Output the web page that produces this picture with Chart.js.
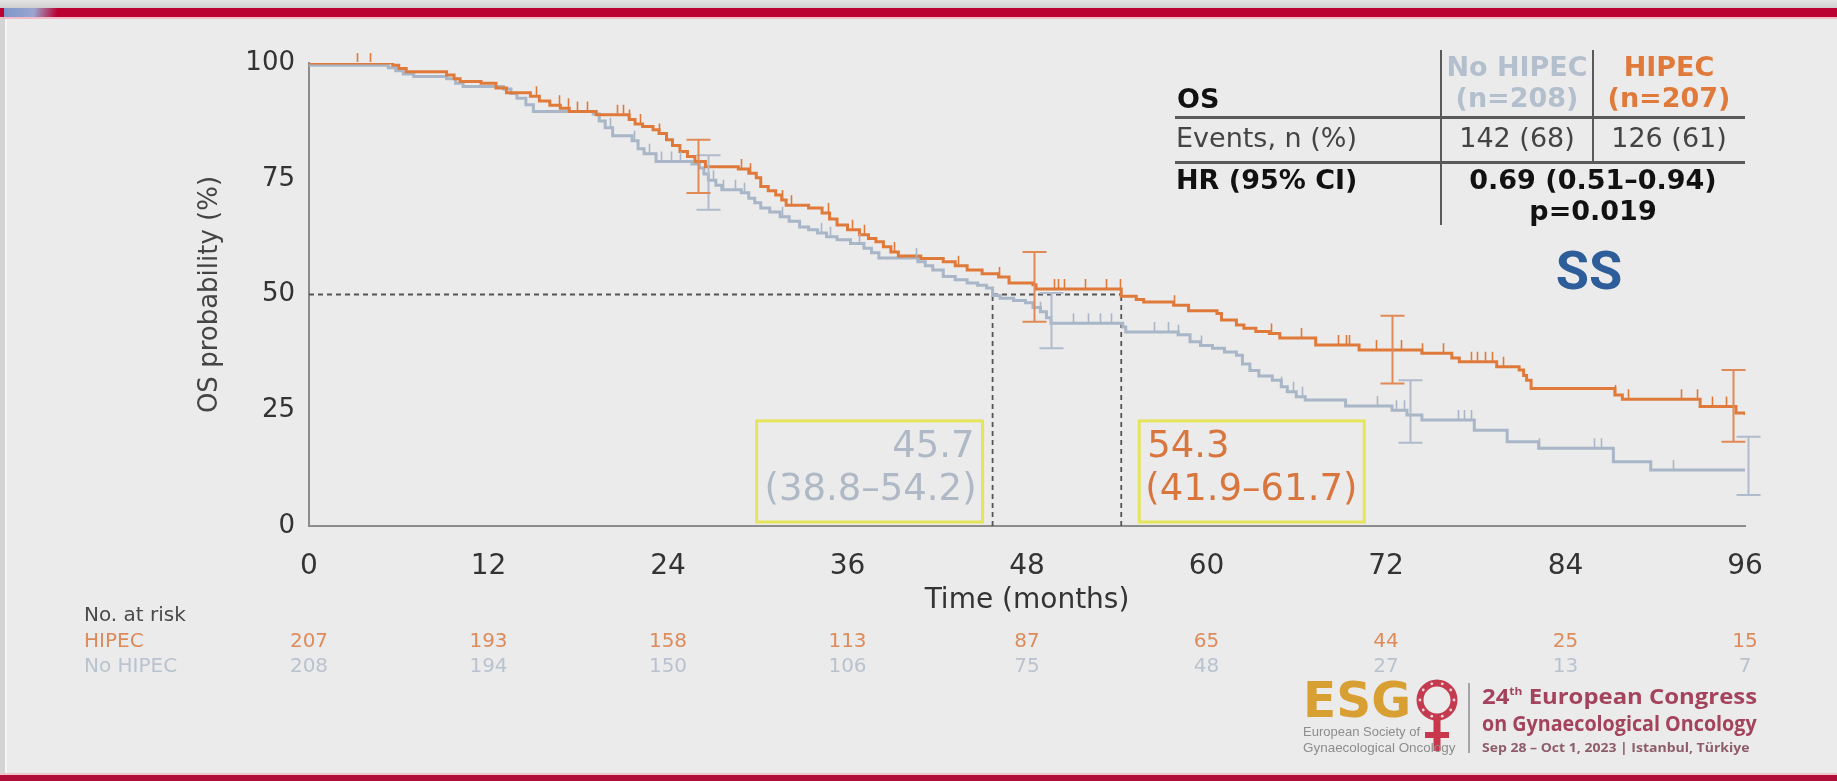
<!DOCTYPE html>
<html>
<head>
<meta charset="utf-8">
<script src="https://cdn.jsdelivr.net/npm/chart.js@4.4.0/dist/chart.umd.min.js"></script>
<style>
html,body{margin:0;padding:0;width:1837px;height:781px;overflow:hidden;background:#ebebeb;font-family:"DejaVu Sans",sans-serif;}
#wrap{position:relative;width:1837px;height:781px;}
#km{position:absolute;left:0;top:0;}
.ov{position:absolute;white-space:nowrap;line-height:1.2;}
.bar{position:absolute;}
</style>
</head>
<body>
<div id="wrap">
  <div class="bar" style="left:0;top:0;width:1837px;height:8px;background:linear-gradient(#e4e4e4,#cfcfcf);"></div>
  <div class="bar" style="left:0;top:8px;width:1837px;height:9px;background:#ba0131;"></div>
  <div class="bar" style="left:4px;top:8px;width:66px;height:9px;background:linear-gradient(100deg,#7f95c9 0%,#9aa6cf 45%,rgba(186,1,49,0) 80%);"></div>
  <div class="bar" style="left:0;top:17px;width:1837px;height:2px;background:#f1bcc7;"></div>
  <div class="bar" style="left:0;top:773px;width:1837px;height:2px;background:#f2c4cd;"></div>
  <div class="bar" style="left:0;top:775px;width:1837px;height:6px;background:#b10d39;"></div>
  <div class="bar" style="left:0;top:19px;width:5px;height:754px;background:#d4d4d4;"></div>
  <div class="bar" style="left:5px;top:19px;width:2px;height:754px;background:#f6f6f6;"></div>
  <canvas id="km" width="1837" height="781"></canvas>
</div>
<script>
// ---------------- data ----------------
const monthTicks = [0, 12, 24, 36, 48, 60, 72, 84, 96];
const probTicks = [0, 25, 50, 75, 100];

const hipecTimes = [0, 5.6, 6, 6.5, 9.2, 9.7, 10.1, 11.5, 12.5, 13.2, 14.8, 15.4, 16.1, 16.8, 17.4, 19.2, 21.4, 21.8, 22.3, 23.0,
  23.4, 23.9, 24.3, 24.8, 25.3, 25.8, 26.5, 28.7, 29.4, 29.9, 30.2, 30.7, 31.2, 31.6, 31.9, 33.4, 34.3, 34.8, 35.3, 36.0,
  36.8, 37.4, 37.9, 38.4, 38.9, 39.4, 40.9, 42.4, 43.2, 44.0, 45.0, 46.1, 46.8, 48.4, 48.6, 54.3, 55.3, 55.8, 57.8, 58.8,
  60.7, 61.0, 62.0, 62.5, 63.3, 64.2, 64.9, 67.3, 70.2, 74.4, 76.4, 76.9, 79.4, 80.9, 81.2, 81.4, 81.7, 87.3, 87.8, 93.0,
  95.4, 96.0];
const hipecSurvival = [100, 99.5, 98.8, 98.1, 97.4, 96.6, 96.0, 95.6, 94.6, 93.6, 92.8, 91.8, 90.9, 90.2, 89.5, 88.8, 87.8, 86.8, 86.3, 85.6,
  84.8, 83.4, 82.2, 80.9, 79.8, 78.7, 77.6, 77.1, 76.2, 75.2, 73.3, 72.4, 71.5, 70.4, 69.3, 68.7, 67.6, 66.3, 65.0, 64.0,
  62.9, 62.1, 61.4, 60.3, 59.2, 58.3, 57.8, 57.1, 56.2, 55.3, 54.5, 53.8, 52.5, 52.1, 51.2, 49.6, 48.9, 48.4, 47.7, 46.5,
  45.9, 44.5, 43.4, 42.7, 42.0, 41.6, 40.6, 39.1, 38.0, 37.3, 36.3, 35.5, 34.4, 33.7, 32.5, 31.5, 29.7, 28.3, 27.4, 25.8,
  24.4, 24.0];

const noHipecTimes = [0, 5.3, 5.8, 6.3, 7.0, 9.2, 9.8, 10.3, 13.0, 13.5, 13.9, 14.5, 15.0, 19.0, 19.4, 19.8, 20.3, 21.6, 22.0, 22.4,
  23.2, 25.6, 26.1, 26.4, 26.7, 27.2, 27.6, 28.9, 29.4, 29.8, 30.2, 30.8, 31.5, 32.1, 32.8, 33.4, 34.0, 34.6, 35.3, 36.2,
  37.1, 37.6, 38.1, 40.7, 41.2, 41.7, 42.4, 43.2, 44.0, 44.7, 45.3, 45.7, 46.2, 47.1, 47.9, 48.4, 48.9, 49.3, 49.6, 54.4,
  54.6, 58.1, 58.9, 59.6, 60.4, 61.2, 62.0, 62.4, 62.9, 63.5, 64.4, 65.0, 65.4, 66.0, 66.6, 69.3, 72.4, 73.4, 74.4, 77.9,
  80.1, 82.2, 87.2, 89.7, 96.0];
const noHipecSurvival = [99.5, 99.0, 98.3, 97.6, 97.1, 96.6, 95.6, 94.9, 94.4, 93.4, 92.4, 91.0, 89.5, 89.0, 87.5, 86.0, 84.3, 83.2, 81.5, 80.4,
  78.7, 78.2, 77.3, 76.0, 74.7, 73.6, 72.6, 72.0, 70.8, 69.8, 68.7, 67.8, 66.8, 65.8, 64.6, 64.0, 63.3, 62.5, 61.8, 61.0,
  60.0, 59.0, 57.9, 57.1, 56.2, 55.3, 53.9, 53.2, 52.5, 52.0, 51.4, 49.8, 49.2, 48.7, 48.2, 47.2, 46.3, 45.0, 43.8, 43.0,
  41.9, 41.3, 39.8, 39.0, 38.4, 37.6, 36.9, 35.0, 33.6, 32.4, 31.5, 30.1, 29.0, 27.9, 27.2, 25.9, 25.0, 24.0, 22.9, 20.7,
  18.2, 16.8, 13.9, 12.1, 12.1];

const hipecCensored = [3.2, 4.1, 15.2, 16.7, 17.3, 17.9, 18.6, 20.6, 21.0, 21.4, 22.1, 23.4, 28.9, 29.5, 31.6, 32.2, 34.7, 36.3, 37.1, 39.1,
  43.4, 46.1, 49.8, 50.1, 50.5, 51.9, 53.3, 54.2, 57.8, 64.3, 66.3, 68.8, 69.3, 69.5, 71.3, 73.0, 74.4, 75.8, 77.7, 78.1,
  78.6, 79.1, 79.8, 87.3, 88.2, 91.7, 92.8, 93.8, 94.7];
const noHipecCensored = [20.1, 21.7, 22.7, 23.5, 24.2, 24.8, 27.0, 27.7, 28.5, 29.1, 31.6, 34.2, 34.8, 36.8, 40.6, 48.9, 51.1, 52.1, 52.9, 53.6,
  56.5, 57.4, 58.1, 59.6, 65.0, 65.8, 66.4, 71.4, 72.7, 73.2, 76.8, 77.2, 77.7, 82.2, 85.9, 86.4, 91.2];

const hipecCiTimes = [26.0, 48.5, 72.4, 95.2];
const hipecCiLow = [71.9, 44.1, 30.8, 18.2];
const hipecCiHigh = [83.4, 59.2, 45.4, 33.7];
const noHipecCiTimes = [26.7, 49.6, 73.6, 96.2];
const noHipecCiLow = [68.3, 38.4, 18.0, 6.7];
const noHipecCiHigh = [80.1, 50.3, 31.5, 19.3];

const medianMonths = [45.7, 54.3];           // No HIPEC, HIPEC
const medianCiText = ['(38.8–54.2)', '(41.9–61.7)'];
const atRiskHipec = [207, 193, 158, 113, 87, 65, 44, 25, 15];
const atRiskNoHipec = [208, 194, 150, 106, 75, 48, 27, 13, 7];

// ---------------- styles ----------------
const ORANGE = '#e07a3b';
const GREY = '#a8b6c7';
const ORANGE_CI = '#e28a56';
const GREY_CI = '#b0bccb';
const FONT = '"DejaVu Sans", sans-serif';

const toPts = (T, S) => T.map((t, i) => ({x: t, y: S[i]}));
const survAt = (T, S, t) => { let v = S[0]; for (let i = 0; i < T.length; i++) { if (T[i] <= t) v = S[i]; else break; } return v; };

const kmPlugin = {
  id: 'kmExtras',
  afterDatasetsDraw(chart) {
    const {ctx, scales: {x, y}} = chart;
    ctx.save();
    const censors = (T, S, C, color) => {
      ctx.strokeStyle = color; ctx.lineWidth = 1.6; ctx.beginPath();
      C.forEach(t => {
        const px = Math.round(x.getPixelForValue(t)) + 0.5;
        const py = y.getPixelForValue(survAt(T, S, t));
        ctx.moveTo(px, py - 1); ctx.lineTo(px, py - 10);
      });
      ctx.stroke();
    };
    const ci = (Tc, lo, hi, color) => {
      ctx.strokeStyle = color; ctx.lineWidth = 2; ctx.beginPath();
      Tc.forEach((t, i) => {
        const px = Math.round(x.getPixelForValue(t)) + 0.5;
        const y1 = y.getPixelForValue(lo[i]), y2 = y.getPixelForValue(hi[i]);
        ctx.moveTo(px, y1); ctx.lineTo(px, y2);
        ctx.moveTo(px - 12, y1); ctx.lineTo(px + 12, y1);
        ctx.moveTo(px - 12, y2); ctx.lineTo(px + 12, y2);
      });
      ctx.stroke();
    };
    censors(noHipecTimes, noHipecSurvival, noHipecCensored, GREY);
    censors(hipecTimes, hipecSurvival, hipecCensored, ORANGE);
    ci(noHipecCiTimes, noHipecCiLow, noHipecCiHigh, GREY_CI);
    ci(hipecCiTimes, hipecCiLow, hipecCiHigh, ORANGE_CI);
    ctx.restore();
  },
  afterDraw(chart) {
    const {ctx, scales: {x, y}} = chart;
    ctx.save();
    // median boxes
    const top = y.getPixelForValue(22.7), bottom = y.bottom - 4;
    const r1 = x.getPixelForValue(medianMonths[0]) - 10, l1 = r1 - 226;
    const l2 = x.getPixelForValue(medianMonths[1]) + 18, r2 = l2 + 225;
    ctx.strokeStyle = '#e4e55a'; ctx.lineWidth = 3;
    ctx.strokeRect(l1, top, r1 - l1, bottom - top);
    ctx.strokeRect(l2, top, r2 - l2, bottom - top);
    ctx.font = '37px ' + FONT; ctx.textBaseline = 'middle';
    ctx.fillStyle = '#afb9c6'; ctx.textAlign = 'right';
    ctx.fillText(String(medianMonths[0]), r1 - 8, top + 26);
    ctx.fillText(medianCiText[0], r1 - 6, top + 69);
    ctx.fillStyle = '#d8763e'; ctx.textAlign = 'left';
    ctx.fillText(String(medianMonths[1]), l2 + 8, top + 26);
    ctx.fillText(medianCiText[1], l2 + 6, top + 69);
    // number at risk
    ctx.font = '20px ' + FONT; ctx.textAlign = 'left';
    ctx.fillStyle = '#4a4a4a'; ctx.fillText('No. at risk', 84, 616);
    ctx.fillStyle = '#dd8b5b'; ctx.fillText('HIPEC', 84, 642);
    ctx.fillStyle = '#b9c3cf'; ctx.fillText('No HIPEC', 84, 667);
    ctx.textAlign = 'center';
    monthTicks.forEach((m, i) => {
      const px = x.getPixelForValue(m);
      ctx.fillStyle = '#dd8b5b'; ctx.fillText(String(atRiskHipec[i]), px, 642);
      ctx.fillStyle = '#b9c3cf'; ctx.fillText(String(atRiskNoHipec[i]), px, 667);
    });
    ctx.restore();
  }
};

const dashStyle = {borderColor: '#555', borderWidth: 1.8, borderDash: [5, 4], pointRadius: 0, fill: false};
const datasets = [
  {label: 'HIPEC', data: toPts(hipecTimes, hipecSurvival), borderColor: ORANGE, borderWidth: 3, stepped: true, pointRadius: 0, fill: false},
  {label: 'No HIPEC', data: toPts(noHipecTimes, noHipecSurvival), borderColor: GREY, borderWidth: 3, stepped: true, pointRadius: 0, fill: false},
  Object.assign({label: 'median 50%', data: [{x: 0, y: 50}, {x: Math.max(...medianMonths), y: 50}]}, dashStyle),
];
medianMonths.forEach((m, i) => datasets.push(Object.assign({label: 'median ' + i, data: [{x: m, y: 0}, {x: m, y: 50}]}, dashStyle)));

new Chart(document.getElementById('km').getContext('2d'), {
  type: 'line',
  data: {datasets},
  options: {
    responsive: false, animation: false, devicePixelRatio: 1,
    layout: {padding: {left: 190, top: 63, right: 92, bottom: 160}},
    plugins: {legend: {display: false}, tooltip: {enabled: false}},
    scales: {
      x: {
        type: 'linear', min: 0, max: 96,
        afterBuildTicks: s => { s.ticks = monthTicks.map(v => ({value: v})); },
        afterFit: s => { s.height = 95; },
        ticks: {font: {family: FONT, size: 28}, color: '#333', padding: 24, maxRotation: 0, autoSkip: false},
        grid: {display: false, drawTicks: false},
        border: {color: '#8c8c8c', width: 2},
        title: {display: true, text: 'Time (months)', font: {family: FONT, size: 28}, color: '#333', padding: {top: 0, bottom: 3}}
      },
      y: {
        type: 'linear', min: 0, max: 100,
        afterBuildTicks: s => { s.ticks = probTicks.map(v => ({value: v})); },
        afterFit: s => { s.width = 119; },
        ticks: {font: {family: FONT, size: 26}, color: '#333', padding: 14},
        grid: {display: false, drawTicks: false},
        border: {color: '#8c8c8c', width: 2},
        title: {display: true, text: 'OS probability (%)', font: {family: FONT, size: 26}, color: '#444', padding: {top: 5, bottom: 0}}
      }
    }
  },
  plugins: [kmPlugin]
});

// ---------------- overlays: summary table, SS, logo ----------------
const wrap = document.getElementById('wrap');
function addText(html, x, cy, o) {
  const d = document.createElement('div');
  d.className = 'ov';
  d.innerHTML = html;
  d.style.left = x + 'px'; d.style.top = cy + 'px';
  d.style.fontFamily = o.family || FONT;
  d.style.fontSize = o.size + 'px';
  d.style.fontWeight = o.bold ? 'bold' : 'normal';
  d.style.color = o.color || '#222';
  const ax = o.align === 'center' ? '-50%' : o.align === 'right' ? '-100%' : '0';
  wrap.appendChild(d);
  let sx = 1;
  if (o.fit) sx = o.fit / d.offsetWidth;
  d.style.transformOrigin = '0 0';
  d.style.transform = `scaleX(${sx}) translate(${ax},-50%)`;
  return d;
}
function addBar(x, y, w, h, c) {
  const d = document.createElement('div');
  d.className = 'bar';
  Object.assign(d.style, {left: x + 'px', top: y + 'px', width: w + 'px', height: h + 'px', background: c});
  wrap.appendChild(d);
}
// table lines
addBar(1440, 50, 2, 175, '#5a5a5a');
addBar(1592, 50, 2, 112, '#5a5a5a');
addBar(1175, 116, 570, 2.5, '#5a5a5a');
addBar(1175, 161, 570, 2.5, '#5a5a5a');
// table text
addText('OS', 1177, 99, {size: 27, bold: true, color: '#111'});
addText('No HIPEC', 1517, 67, {size: 27, bold: true, color: '#b3bfcd', align: 'center'});
addText('(n=208)', 1517, 98, {size: 27, bold: true, color: '#b3bfcd', align: 'center'});
addText('HIPEC', 1669, 67, {size: 27, bold: true, color: ORANGE, align: 'center'});
addText('(n=207)', 1669, 98, {size: 27, bold: true, color: ORANGE, align: 'center'});
addText('Events, n (%)', 1176, 138, {size: 27, color: '#444'});
addText('142 (68)', 1517, 138, {size: 27, color: '#444', align: 'center'});
addText('126 (61)', 1669, 138, {size: 27, color: '#444', align: 'center'});
addText('HR (95% CI)', 1176, 180, {size: 27, bold: true, color: '#111'});
addText('0.69 (0.51–0.94)', 1593, 180, {size: 27, bold: true, color: '#111', align: 'center'});
addText('p=0.019', 1593, 211, {size: 27, bold: true, color: '#111', align: 'center'});
addText('SS', 1589, 271, {size: 54, bold: true, color: '#2e5e9a', align: 'center', family: 'Roboto, sans-serif'});

// logo
addText('ESG', 1303, 701, {size: 49, bold: true, color: '#d8a032', fit: 108});
const svgNS = 'http://www.w3.org/2000/svg';
const svg = document.createElementNS(svgNS, 'svg');
svg.setAttribute('width', '52'); svg.setAttribute('height', '76');
svg.style.position = 'absolute'; svg.style.left = '1411px'; svg.style.top = '678px';
let inner = '<circle cx="26" cy="22" r="17" fill="none" stroke="#c43a4f" stroke-width="7"/>';
for (let k = 0; k < 10; k++) {
  const a = k * Math.PI / 5;
  inner += `<circle cx="${26 + 17 * Math.cos(a)}" cy="${22 + 17 * Math.sin(a)}" r="1.4" fill="#f3d6da"/>`;
}
inner += '<rect x="22.5" y="39" width="7" height="34" fill="#c8374b"/><rect x="14" y="54" width="24" height="6" fill="#c8374b"/>';
svg.innerHTML = inner;
wrap.appendChild(svg);
addText('European Society of', 1303, 732, {size: 13, color: '#8d8d8d', family: '"Liberation Sans", sans-serif', fit: 117});
addText('Gynaecological Oncology', 1303, 748, {size: 13, color: '#8d8d8d', family: '"Liberation Sans", sans-serif', fit: 152});
addBar(1468, 683, 1.5, 70, '#a5a5a5');
addText('24<sup style="font-size:11px;vertical-align:9px">th</sup> European Congress', 1482, 695, {size: 22, bold: true, color: '#a3435c', family: '"Open Sans", sans-serif', fit: 275});
addText('on Gynaecological Oncology', 1482, 722, {size: 22, bold: true, color: '#a3435c', family: '"Open Sans", sans-serif', fit: 275});
addText('Sep 28 – Oct 1, 2023 | Istanbul, Türkiye', 1482, 748, {size: 13, bold: true, color: '#8e5c6a', family: '"Open Sans", sans-serif', fit: 268});
</script>
</body>
</html>
